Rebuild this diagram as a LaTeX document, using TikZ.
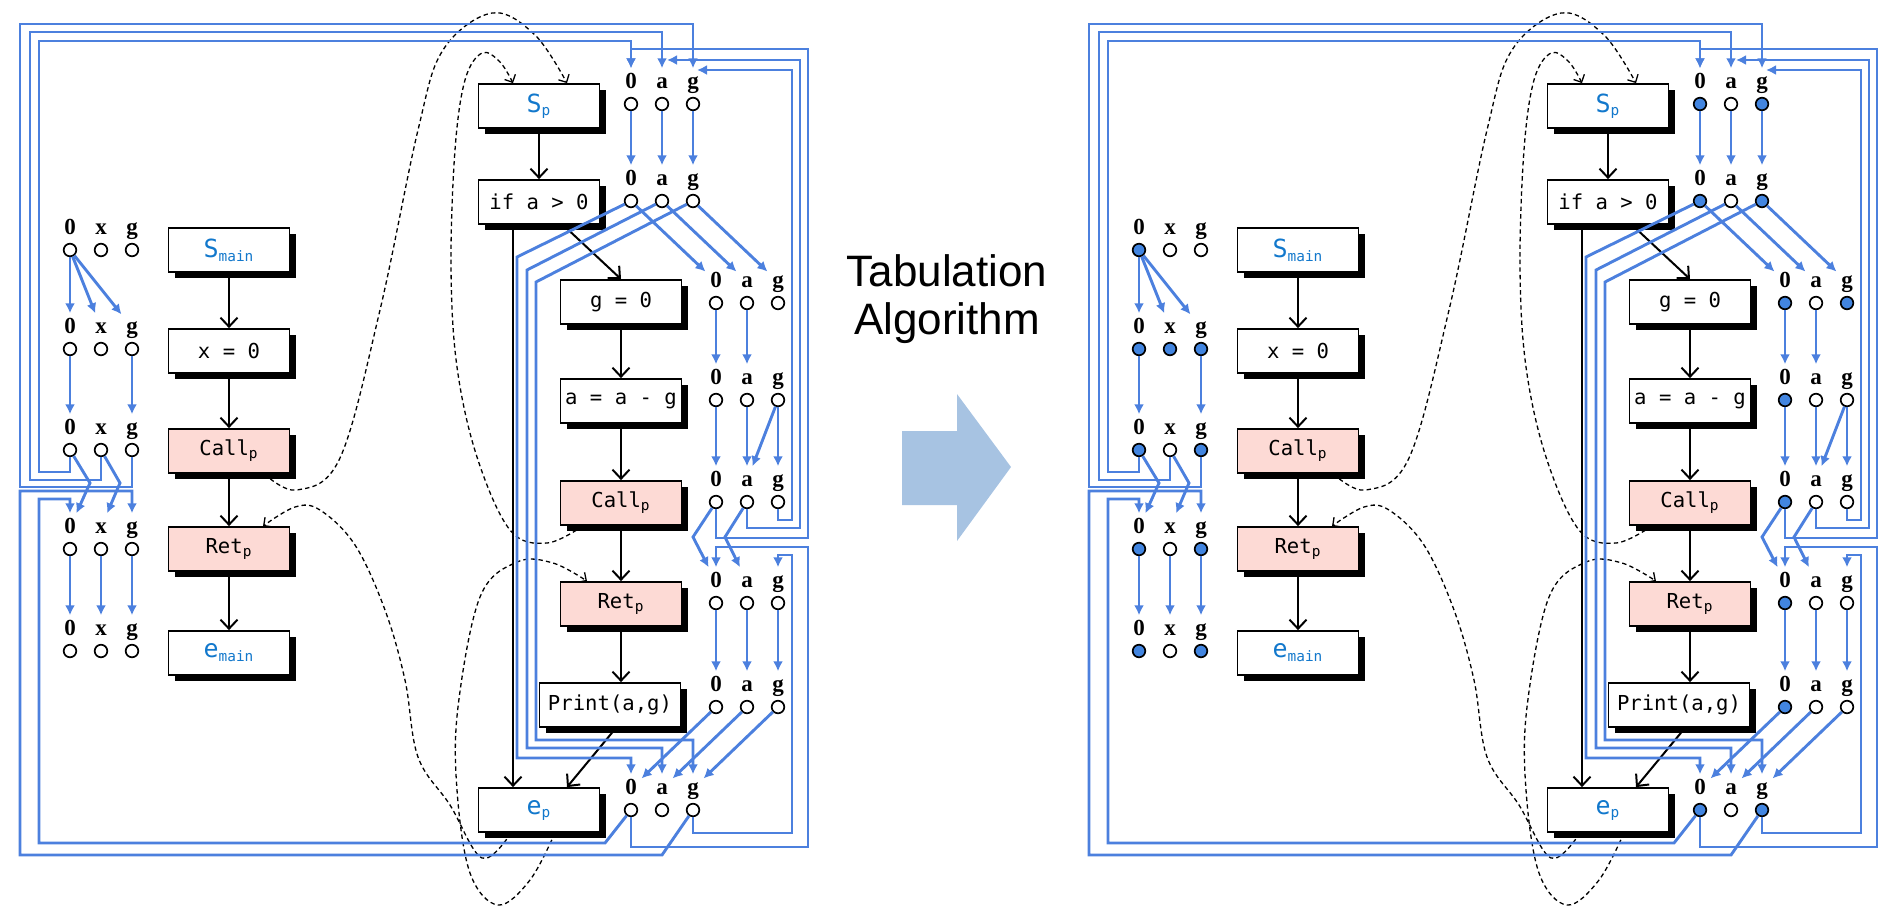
\documentclass[tikz,border=0pt]{standalone}
\usepackage{fontspec}
\usepackage{xcolor}
\usetikzlibrary{arrows.meta,shadows}

\newfontfamily\boxfont{DejaVu Sans Mono}
\newfontfamily\lblfont{Liberation Serif}
\newfontfamily\titlefont{Liberation Sans}

\definecolor{flowblue}{RGB}{76,128,222}
\definecolor{dotblue}{RGB}{66,133,224}
\definecolor{nodeblue}{RGB}{18,120,204}
\definecolor{callpink}{RGB}{253,218,213}
\definecolor{arrowblue}{RGB}{167,195,226}

\tikzset{
  box/.style={draw, line width=0.9pt, fill=white, minimum width=60.5pt, minimum height=22pt,
    inner sep=0pt, font=\boxfont\fontsize{10.3}{12}\selectfont,
    drop shadow={shadow xshift=3.2pt, shadow yshift=-3.2pt, fill=black, opacity=1}},
  callbox/.style={box, fill=callpink},
  term/.style={box, text=nodeblue},
  dot/.style={circle, draw, line width=0.85pt, fill=white, minimum size=6.3pt, inner sep=0pt},
  noreach/.style={fill=white},
  lbl/.style={font=\lblfont\bfseries\fontsize{11.5}{13}\selectfont, inner sep=2.2pt,
    text height=7.5pt, text depth=2pt},
  flow/.style={draw=flowblue, line width=1.45pt, -{Latex[length=5pt,width=5pt]}},
  cf/.style={line width=1pt, -{Straight Barb[length=4.5pt,width=8.5pt]}},
  callarc/.style={dash pattern=on 2.2pt off 1.6pt, line width=0.65pt,
    -{Straight Barb[length=3pt,width=6pt]}},
}

% one row of fact dots: name, x, y, middle variable, fill of each dot
\newcommand{\dotrow}[7]{%
  \node[dot,#5,label={[lbl,name=#1-t0]above:0}] (#1-0) at (#2,#3) {};
  \node[dot,#6,label={[lbl,name=#1-t1]above:#4}] (#1-1) at (#2+31,#3) {};
  \node[dot,#7,label={[lbl,name=#1-t2]above:g}] (#1-2) at (#2+62,#3) {};
}

\newcommand{\panel}{%
  % main
  \node[term] (smain) at (229,250) {{\fontsize{12.5}{14}\selectfont S}\textsubscript{main}};
  \node[box] (xzero) at (229,351) {x = 0};
  \node[callbox] (callm) at (229,451) {Call\textsubscript{p}};
  \node[callbox] (retm) at (229,549) {Ret\textsubscript{p}};
  \node[term] (emain) at (229,653) {{\fontsize{12.5}{14}\selectfont e}\textsubscript{main}};

  \draw[cf] (smain) -- (xzero);
  \draw[cf] (xzero) -- (callm);
  \draw[cf] (callm) -- (retm);
  \draw[cf] (retm) -- (emain);

  % p
  \node[term] (sp) at (539,106) {{\fontsize{12.5}{14}\selectfont S}\textsubscript{p}};
  \node[box] (ifa) at (539,202) {if a > 0};
  \node[box] (gzero) at (621,302) {g = 0};
  \node[box] (aag) at (621,401) {a = a - g};
  \node[callbox] (callp) at (621,503) {Call\textsubscript{p}};
  \node[callbox] (retp) at (621,604) {Ret\textsubscript{p}};
  \node[box, minimum width=70.5pt] (print) at (610,705) {Print(a,g)};
  \node[term] (ep) at (539,810) {{\fontsize{12.5}{14}\selectfont e}\textsubscript{p}};

  \draw[cf] (sp) -- (ifa);
  \draw[cf] ([xshift=12pt]ifa.south) -- (gzero.north);
  \draw[cf] ([xshift=-13pt]ifa.south) -- ([xshift=-13pt]ep.north);
  \draw[cf] (gzero) -- (aag);
  \draw[cf] (aag) -- (callp);
  \draw[cf] (callp) -- (retp);
  \draw[cf] (retp) -- (retp.south |- print.north);
  \draw[cf] ([xshift=3pt]print.south) -- ([xshift=14pt]ep.north);

  % call and return arcs
  \draw[callarc] plot[smooth, tension=0.6] coordinates {([xshift=-13pt]callm.south east)
    (297,490) (340,458) (380,310) (418,130) (443,50) (492,13) (535,35) ([xshift=14pt]sp.north)};
  \draw[callarc] plot[smooth, tension=0.6] coordinates {([xshift=-14pt]ep.south)
    (482,858) (450,805) (418,757) (405,680) (385,610) (355,545) (320,510) (295,507)
    ([xshift=17pt]retm.north)};
  \draw[callarc] plot[smooth, tension=0.6] coordinates {([xshift=-19pt]callp.south)
    (547,543) (510,530) (477,457) (457,367) (451,267) (455,150) (465,80) (482,53) (500,62)
    ([xshift=-13pt]sp.north)};
  \draw[callarc] plot[smooth, tension=0.6] coordinates {([xshift=8pt]ep.south)
    (530,880) (498,905) (470,873) (457,790) (458,707) (480,597) (517,562) (553,563)
    ([xshift=-17pt]retp.north)};

  % exploded supergraph
  \dotrow{m1}{70}{250}{x}{reach}{noreach}{noreach}
  \dotrow{m2}{70}{349}{x}{reach}{reach}{reach}
  \dotrow{m3}{70}{450}{x}{reach}{noreach}{reach}
  \dotrow{m4}{70}{549}{x}{reach}{noreach}{reach}
  \dotrow{m5}{70}{651}{x}{reach}{noreach}{reach}
  \dotrow{p1}{631}{104}{a}{reach}{noreach}{reach}
  \dotrow{p2}{631}{201}{a}{reach}{noreach}{reach}
  \dotrow{p3}{716}{303}{a}{reach}{noreach}{reach}
  \dotrow{p4}{716}{400}{a}{reach}{noreach}{noreach}
  \dotrow{p5}{716}{502}{a}{reach}{noreach}{noreach}
  \dotrow{p6}{716}{603}{a}{reach}{noreach}{noreach}
  \dotrow{p7}{716}{707}{a}{reach}{noreach}{noreach}
  \dotrow{p8}{631}{810}{a}{reach}{noreach}{reach}
  \coordinate (p1-in1) at (667,60);
  \coordinate (p1-in2) at (697,70);

  \foreach \k in {0,1,2} \draw[flow] (m1-0) -- (m2-t\k);
  \draw[flow] (m2-0) -- (m3-t0);
  \draw[flow] (m2-2) -- (m3-t2);
  \draw[flow] (m3-0) -- (90,483) -- (m4-t0);
  \draw[flow] (m3-1) -- (120,483) -- (m4-t1);
  \foreach \k in {0,1,2} \draw[flow] (m4-\k) -- (m5-t\k);

  \draw[flow] (m3-0) |- (39,472) -- (39,41) -| (p1-t0);
  \draw[flow] (m3-1) |- (30,480) -- (30,32) -| (p1-t1);
  \draw[flow] (m3-2) |- (20,487) -- (20,24) -| (p1-t2);
  \draw[flow] (p8-0) -- (605,843) -- (39,843) -- (39,499) -| (m4-t0);
  \draw[flow] (p8-2) -- (662,855) -- (20,855) -- (20,491) -| (m4-t2);

  \foreach \k in {0,1,2} \draw[flow] (p1-\k) -- (p2-t\k);
  \foreach \k in {0,1,2} \draw[flow] (p2-\k) -- (p3-t\k);
  \draw[flow] (p2-0) -- (517,257) -- (517,758) -| (p8-t0);
  \draw[flow] (p2-1) -- (527,270) -- (527,748) -| (p8-t1);
  \draw[flow] (p2-2) -- (536,282) -- (536,740) -| (p8-t2);
  \draw[flow] (p3-0) -- (p4-t0);
  \draw[flow] (p3-1) -- (p4-t1);
  \foreach \k in {0,1,2} \draw[flow] (p4-\k) -- (p5-t\k);
  \draw[flow] (p4-2) -- (p5-t1);

  \draw[flow] (p5-0) |- (808,538) -- (808,49) -| (p1-t0);
  \draw[flow] (p5-1) |- (800,528) |- (p1-in1);
  \draw[flow] (p5-2) |- (792,520) |- (p1-in2);
  \draw[flow] (p5-0) -- (693,537) -- (p6-t0);
  \draw[flow] (p5-1) -- (725,537) -- (p6-t1);
  \draw[flow] (p8-0) |- (808,847) -- (808,547) -| (p6-t0);
  \draw[flow] (p8-2) |- (792,833) -- (792,555) -| (p6-t2);

  \foreach \k in {0,1,2} \draw[flow] (p6-\k) -- (p7-t\k);
  \foreach \k in {0,1,2} \draw[flow] (p7-\k) -- (p8-t\k);
}

\begin{document}
\begin{tikzpicture}[x=0.5pt,y=-0.5pt]
  \useasboundingbox (0,0) rectangle (1890,918);

  \begin{scope}[name prefix=L-, reach/.style={fill=white}]
    \panel
  \end{scope}

  \node[font=\titlefont\fontsize{22}{24}\selectfont, align=center] (title) at (947,299)
    {Tabulation\\Algorithm};
  \fill[arrowblue] (902,431) -- (957,431) -- (957,394) -- (1011,467) -- (957,541)
    -- (957,505) -- (902,505) -- cycle;

  \begin{scope}[shift={(1069,0)}, name prefix=R-, reach/.style={fill=dotblue}]
    \panel
  \end{scope}
\end{tikzpicture}
\end{document}
